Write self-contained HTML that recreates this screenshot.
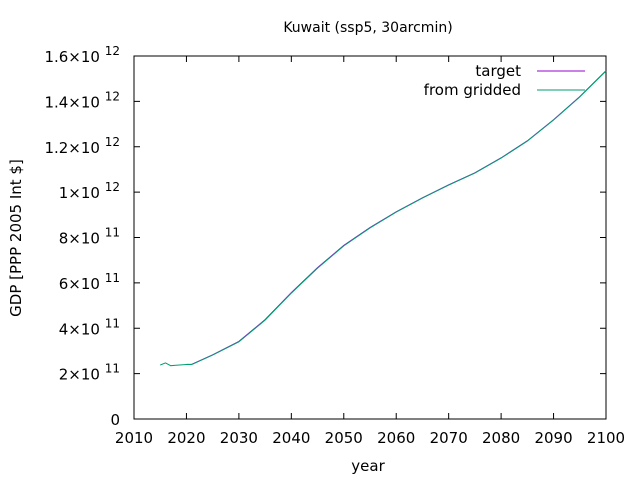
<!DOCTYPE html>
<html><head><meta charset="utf-8"><style>
body{margin:0;background:#fff}
svg{display:block;font-family:"DejaVu Sans","Liberation Sans",sans-serif;font-size:15px}
</style></head><body>
<svg width="640" height="480" id="c">
<text x="368" y="32" text-anchor="middle" font-size="14">Kuwait (ssp5, 30arcmin)</text>
<text x="368" y="471" text-anchor="middle">year</text>
<text transform="translate(21,238) rotate(-90)" text-anchor="middle">GDP [PPP 2005 Int $]</text>
<rect x="134" y="56" width="472" height="363" fill="none" stroke="#000"/>
<g id="axes"></g>
<g id="series"></g>
<g>
<text x="521" y="76" text-anchor="end">target</text>
<line x1="537" y1="71" x2="585" y2="71" stroke="#9400d3"/>
<text x="521" y="95" text-anchor="end">from gridded</text>
<line x1="537" y1="90" x2="585" y2="90" stroke="#009e73"/>
</g>
</svg>
<script>
const xTicks=[2010,2020,2030,2040,2050,2060,2070,2080,2090,2100];
const yTickVals=[0,2e11,4e11,6e11,8e11,1e12,1.2e12,1.4e12,1.6e12];
const yTickMant=["0","2","4","6","8","1","1.2","1.4","1.6"];
const yTickExp=["","11","11","11","11","12","12","12","12"];
const targetYears=[2020,2021,2025,2030,2035,2040,2045,2050,2055,2060,2065,2070,2075,2080,2085,2090,2095,2100];
const targetVals=[2.41e11,2.41e11,2.83e11,3.42e11,4.38e11,5.57e11,6.67e11,7.65e11,8.44e11,9.13e11,9.75e11,1.032e12,1.085e12,1.151e12,1.226e12,1.319e12,1.421e12,1.535e12];
const griddedYears=[2015,2016,2017,2018,2020,2021,2025,2030,2035,2040,2045,2050,2055,2060,2065,2070,2075,2080,2085,2090,2095,2100];
const griddedVals=[2.38e11,2.47e11,2.35e11,2.37e11,2.4e11,2.4e11,2.82e11,3.4e11,4.36e11,5.55e11,6.65e11,7.63e11,8.42e11,9.12e11,9.74e11,1.031e12,1.084e12,1.15e12,1.225e12,1.318e12,1.42e12,1.534e12];
const X=v=>134+(v-2010)/90*472;
const Y=v=>419-v/1.6e12*363;
const NS="http://www.w3.org/2000/svg";
const ax=document.getElementById('axes');
function mk(t,a,p){const e=document.createElementNS(NS,t);for(const k in a)e.setAttribute(k,a[k]);p.appendChild(e);return e;}
xTicks.forEach(t=>{
 const x=X(t);
 const l=mk('line',{x1:x,y1:419,x2:x,y2:413,stroke:'#000'},ax);
 
 
 mk('line',{x1:x,y1:56,x2:x,y2:62,stroke:'#000'},ax);
 const tx=mk('text',{x:x,y:443,'text-anchor':'middle'},ax);tx.textContent=t;
 
 
});
yTickVals.forEach((v,i)=>{
 const y=Y(v);
 const l=mk('line',{x1:134,y1:y,x2:140,y2:y,stroke:'#000'},ax);
 
 
 mk('line',{x1:606,y1:y,x2:600,y2:y,stroke:'#000'},ax);
 const tx=mk('text',{x:120,y:y+6,'text-anchor':'end'},ax);
 
 
 if(yTickExp[i]){tx.textContent=yTickMant[i]+"\u00d710 ";const s=mk('tspan',{dy:-7,'font-size':12},tx);s.textContent=yTickExp[i];}
 else tx.textContent=yTickMant[i];
});
const sg=document.getElementById('series');
function line(xs,vs,c,n){
 const p=mk('polyline',{points:xs.map((x,i)=>X(x)+','+Y(vs[i])).join(' '),fill:'none',stroke:c,'stroke-width':1},sg);
 
 
}
line(targetYears,targetVals,'#9400d3','series-target');
line(griddedYears,griddedVals,'#009e73','series-from-gridded');
</script>
</body></html>
